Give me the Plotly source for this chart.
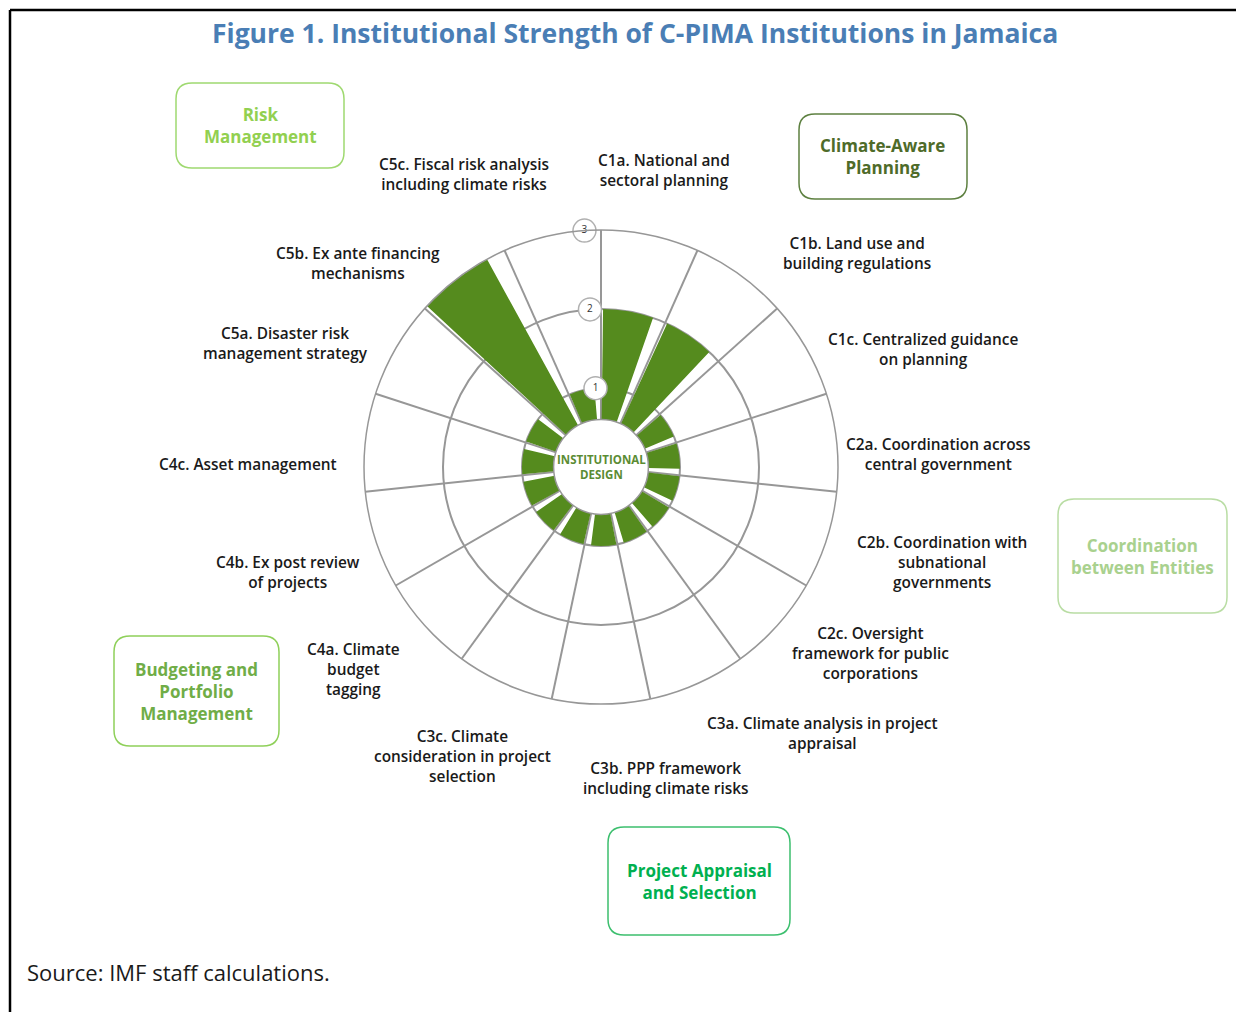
import plotly.graph_objects as go

# C-PIMA institutional design scores (Jamaica)
codes = ["C1a", "C1b", "C1c", "C2a", "C2b", "C2c", "C3a", "C3b", "C3c",
         "C4a", "C4b", "C4c", "C5a", "C5b", "C5c"]
labels = [
    "C1a. National and<br>sectoral planning",
    "C1b. Land use and<br>building regulations",
    "C1c. Centralized guidance<br>on planning",
    "C2a. Coordination across<br>central government",
    "C2b. Coordination with<br>subnational<br>governments",
    "C2c. Oversight<br>framework for public<br>corporations",
    "C3a. Climate analysis in project<br>appraisal",
    "C3b. PPP framework<br>including climate risks",
    "C3c. Climate<br>consideration in project<br>selection",
    "C4a. Climate<br>budget<br>tagging",
    "C4b. Ex post review<br>of projects",
    "C4c. Asset management",
    "C5a. Disaster risk<br>management strategy",
    "C5b. Ex ante financing<br>mechanisms",
    "C5c. Fiscal risk analysis<br>including climate risks",
]
scores = [2, 2, 1, 1, 1, 1, 1, 1, 1, 1, 1, 1, 1, 3, 1]
ring_ticks = [1, 2, 3]
groups = ["Risk<br>Management", "Climate-Aware<br>Planning",
          "Coordination<br>between Entities",
          "Budgeting and<br>Portfolio<br>Management",
          "Project Appraisal<br>and Selection"]

# the page body adds an 8px margin, so the figure is offset by that much
OFF = 8
W, H = 1244 - OFF, 1012 - OFF
FONT = "Open Sans"
GREEN = "#558b1e"
GRID = "#979797"


def px(x, y):
    return (x - OFF) / W, 1 - (y - OFF) / H


# sector layout: 15 slices of 24 degrees, clockwise from the top
step = 360 / len(codes)
theta = [i * step + 10 for i in range(len(codes))]

fig = go.Figure()
fig.add_trace(go.Barpolar(r=scores, theta=theta, width=18.5,
                          marker=dict(color=GREEN, line=dict(width=0)),
                          base=0, hoverinfo="skip"))
fig.add_trace(go.Scatterpolar(r=ring_ticks, theta=[-4] * len(ring_ticks),
                              mode="markers+text",
                              text=[str(t) for t in ring_ticks],
                              textposition="middle center",
                              textfont=dict(family=FONT, size=10, color="#333333"),
                              marker=dict(size=23, color="white",
                                          line=dict(color="#b0b0b0", width=1.5)),
                              cliponaxis=False, hoverinfo="skip"))

cx, cy, rad = 601, 467, 237
x0, y1 = px(cx - rad, cy - rad)
x1, y0 = px(cx + rad, cy + rad)

fig.update_layout(
    width=W, height=H,
    margin=dict(l=0, r=0, t=0, b=0),
    paper_bgcolor="white",
    showlegend=False,
    polar=dict(
        domain=dict(x=[x0, x1], y=[y0, y1]),
        hole=0.2,
        bgcolor="white",
        radialaxis=dict(range=[0.6, 3], tickvals=ring_ticks,
                        showticklabels=False, ticks="", showline=False,
                        gridcolor=GRID, gridwidth=1.5),
        angularaxis=dict(rotation=90, direction="clockwise",
                         tickmode="linear", tick0=0, dtick=step,
                         showticklabels=False, ticks="",
                         gridcolor=GRID, gridwidth=1.5,
                         linecolor=GRID, linewidth=1.5),
    ),
)

annotations = []

# category labels
label_pos = [(664, 171), (857, 253), (923, 350), (938, 454), (942, 562),
             (870, 653), (822, 733), (665, 778), (462, 756), (353, 669),
             (288, 572), (248, 464), (285, 344), (358, 263), (464, 175)]
for txt, (lx, ly) in zip(labels, label_pos):
    ax, ay = px(lx, ly)
    annotations.append(dict(x=ax, y=ay, xref="paper", yref="paper",
                            text=txt, showarrow=False, align="center",
                            xanchor="center", yanchor="middle",
                            font=dict(family=FONT, size=15.4, color="#1a1a1a",
                                      weight=600)))

# centre label
ax, ay = px(cx, cy)
annotations.append(dict(x=ax, y=ay, xref="paper", yref="paper",
                        text="INSTITUTIONAL<br>DESIGN", showarrow=False,
                        xanchor="center", yanchor="middle", align="center",
                        font=dict(family=FONT, size=11.5, color="#5b8c34",
                                  weight=700)))

# title and source
ax, ay = px(635, 33)
annotations.append(dict(x=ax, y=ay, xref="paper", yref="paper",
                        text="Figure 1. Institutional Strength of C-PIMA Institutions in Jamaica",
                        showarrow=False, xanchor="center", yanchor="middle",
                        font=dict(family=FONT, size=26.5, color="#4a7eb5",
                                  weight=700)))
ax, ay = px(25, 972)
annotations.append(dict(x=ax, y=ay, xref="paper", yref="paper",
                        text="Source: IMF staff calculations.", showarrow=False,
                        xanchor="left", yanchor="middle",
                        font=dict(family=FONT, size=22, color="#1a1a1a")))

# group boxes
box_pos = [(176, 83, 344, 168), (799, 114, 967, 199), (1058, 499, 1227, 613),
           (114, 636, 279, 746), (608, 827, 790, 935)]
box_text = ["#92d050", "#4e6b29", "#a9d18e", "#70ad47", "#00b050"]
box_line = ["#9fd970", "#5d8040", "#b9dda4", "#8fd05a", "#3cbf6e"]


def rounded(bx0, by0, bx1, by1, r=16):
    pts = []
    a, b = px(bx0, by0)
    c, d = px(bx1, by1)
    rx, ry = r / W, r / H
    pts.append(f"M {a + rx},{b}")
    pts.append(f"L {c - rx},{b} Q {c},{b} {c},{b - ry}")
    pts.append(f"L {c},{d + ry} Q {c},{d} {c - rx},{d}")
    pts.append(f"L {a + rx},{d} Q {a},{d} {a},{d + ry}")
    pts.append(f"L {a},{b - ry} Q {a},{b} {a + rx},{b} Z")
    return " ".join(pts)


shapes = []
for txt, (bx0, by0, bx1, by1), tc, lc in zip(groups, box_pos, box_text, box_line):
    shapes.append(dict(type="path", xref="paper", yref="paper",
                       path=rounded(bx0, by0, bx1, by1),
                       line=dict(color=lc, width=1.5), fillcolor="white",
                       layer="below"))
    ax, ay = px((bx0 + bx1) / 2, (by0 + by1) / 2)
    annotations.append(dict(x=ax, y=ay, xref="paper", yref="paper",
                            text=txt, showarrow=False, align="center",
                            xanchor="center", yanchor="middle",
                            font=dict(family=FONT, size=17, color=tc,
                                      weight=700)))

# frame lines (top and left)
fx, fy = px(10, 10)
shapes.append(dict(type="line", xref="paper", yref="paper",
                   x0=fx, y0=fy, x1=1, y1=fy, line=dict(color="black", width=2.5)))
shapes.append(dict(type="line", xref="paper", yref="paper",
                   x0=fx, y0=fy, x1=fx, y1=0, line=dict(color="black", width=2.5)))

fig.update_layout(annotations=annotations, shapes=shapes)

fig.write_html("out.html")
